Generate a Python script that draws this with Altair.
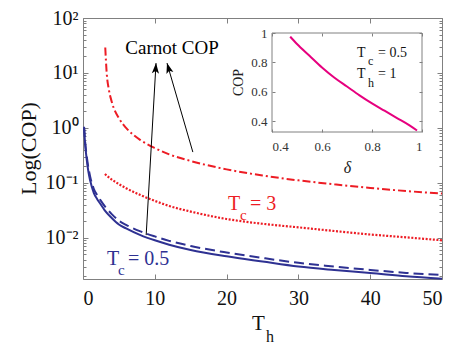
import altair as alt
import pandas as pd

# ---------------- data ----------------
th_tc05 = [0.15, 0.3, 0.5, 0.75, 1.0, 1.5, 2.0, 2.5, 3.0, 4.0, 5.0, 6.0, 8.0, 10, 12, 15, 20, 25, 30, 35, 40, 45, 50]
cop_tc05 = [1.0, 0.5, 0.28, 0.16, 0.11, 0.066, 0.050, 0.040, 0.032, 0.023, 0.0175, 0.0148, 0.0112, 0.0090,
            0.0075, 0.0060, 0.0046, 0.0037, 0.0030, 0.0026, 0.0023, 0.0020, 0.0018]
cop_carnot_tc05 = [1.05, 0.55, 0.32, 0.19, 0.13, 0.078, 0.059, 0.047, 0.038, 0.027, 0.0205, 0.0172, 0.0131,
                   0.0106, 0.0088, 0.0071, 0.0054, 0.0043, 0.0035, 0.0030, 0.0026, 0.0023, 0.0021]

th_carnot_tc3 = [3.1, 3.3, 3.6, 4, 5, 6, 7, 8, 10, 12, 15, 20, 25, 30, 35, 40, 45, 50]
cop_carnot_tc3 = [29.0, 10.0, 5.0, 3.0, 1.5, 1.0, 0.75, 0.6, 0.43, 0.33, 0.25, 0.176, 0.136, 0.111,
                  0.094, 0.081, 0.071, 0.064]

th_tc3 = [3.05, 4, 5, 6, 8, 10, 12, 15, 20, 25, 30, 35, 40, 45, 50]
cop_tc3 = [0.145, 0.115, 0.095, 0.080, 0.060, 0.047, 0.038, 0.030, 0.022, 0.018, 0.0155, 0.0133,
           0.0115, 0.0102, 0.0090]

delta_vals = [0.473, 0.5, 0.55, 0.6, 0.65, 0.7, 0.75, 0.8, 0.85, 0.9, 0.95, 0.98]
cop_inset = [0.975, 0.925, 0.845, 0.765, 0.695, 0.635, 0.575, 0.52, 0.47, 0.42, 0.37, 0.335]

x_ticks = [0, 10, 20, 30, 40, 50]
y_decades = [0.01, 0.1, 1, 10, 100]
y_minor = [m * d for d in [0.001, 0.01, 0.1, 1, 10] for m in range(2, 10)]
inset_ticks = [0.4, 0.6, 0.8, 1.0]

arrow_id = ["a1", "a1", "a2", "a2"]
arrow_th = [8.8, 10.17, 15.3, 11.7]
arrow_cop = [0.0112, 15.1, 0.363, 15.1]
head_th = [10.17, 11.7]
head_cop = [15.1, 15.1]
head_angle = [3.3, 343.8]

# annotation texts (main plot, data coordinates)
big_text = ["T", "= 0.5", "T", "= 3"]
big_th = [3.34, 6.27, 20.2, 23.26]
big_cop = [0.00316, 0.00316, 0.0318, 0.0318]
big_col = ["#2E3192", "#2E3192", "#ED1C24", "#ED1C24"]
sub_text = ["c", "c"]
sub_th = [4.87, 21.87]
sub_cop = [0.0021, 0.0209]
sub_col = ["#2E3192", "#ED1C24"]

# inset annotation texts (inset data coordinates)
ibig_text = ["T", "= 0.5", "T", "= 1"]
ibig_d = [0.74, 0.824, 0.74, 0.824]
ibig_c = [0.836, 0.836, 0.693, 0.693]
isub_text = ["c", "h"]
isub_d = [0.784, 0.784]
isub_c = [0.782, 0.632]

# ---------------- styling ----------------
SERIF = "Liberation Serif"
BLUE = "#2E3192"
RED = "#ED1C24"
MAGENTA = "#E6007E"
GRAY = "#808080"
W, H = 359, 261
IX0, IX1 = 189, 339     # inset x range (px in plot area)
IY_TOP, IY_BOT = 15, 114

xs = alt.Scale(domain=[0, 50], nice=False, zero=False)
ys = alt.Scale(type="log", domain=[0.00178, 100], nice=False)
ixs = alt.Scale(domain=[0.4, 1.0], range=[IX0, IX1], nice=False, zero=False)
iys = alt.Scale(domain=[0.325, 1.0], range=[IY_BOT, IY_TOP], nice=False, zero=False)


def tick_axis(orient, offset, values, size, z=0):
    return alt.Axis(orient=orient, offset=offset, values=values, labels=False, domain=False,
                    ticks=True, tickSize=size, tickColor=GRAY, tickWidth=1, grid=False,
                    title=None, zindex=z)


label_expr = ("datum.value >= 50 ? '10²' : datum.value >= 5 ? '10¹' : datum.value >= 0.5 ? '10⁰' : "
              "datum.value >= 0.05 ? '10⁻¹' : '10⁻²'")

ax_x_lab = alt.Axis(orient="bottom", values=x_ticks, ticks=False, tickSize=0, domain=False, grid=False,
                    labelFont=SERIF, labelFontSize=20, labelColor="#111", labelPadding=9, title=None)
ax_y_lab = alt.Axis(orient="left", values=y_decades, labelExpr=label_expr, ticks=False, tickSize=0,
                    domain=False, grid=False, labelFont=SERIF, labelFontSize=20, labelColor="#111",
                    labelPadding=5, title="Log(COP)", titleFont=SERIF, titleFontSize=22,
                    titleFontWeight="normal", titleColor="#111", titleAngle=270, titleX=-55, titleY=130,
                    titleAlign="center", titleBaseline="middle")

# ---------------- main plot ----------------
df_solid = pd.DataFrame({"th": th_tc05, "cop": cop_tc05})
df_dash = pd.DataFrame({"th": th_tc05, "cop": cop_carnot_tc05})
df_dd = pd.DataFrame({"th": th_carnot_tc3, "cop": cop_carnot_tc3})
df_dot = pd.DataFrame({"th": th_tc3, "cop": cop_tc3})
df_arrow = pd.DataFrame({"id": arrow_id, "th": arrow_th, "cop": arrow_cop})
df_head = pd.DataFrame({"th": head_th, "cop": head_cop, "ang": head_angle})
df_big = pd.DataFrame({"t": big_text, "th": big_th, "cop": big_cop, "col": big_col})
df_sub = pd.DataFrame({"t": sub_text, "th": sub_th, "cop": sub_cop, "col": sub_col})
df_carnot = pd.DataFrame({"t": ["Carnot COP"], "th": [12.4], "cop": [22.1]})

solid = alt.Chart(df_solid).mark_line(color=BLUE, strokeWidth=2, interpolate="monotone").encode(
    x=alt.X("th:Q", scale=xs, axis=ax_x_lab), y=alt.Y("cop:Q", scale=ys, axis=ax_y_lab))
dashed = alt.Chart(df_dash).mark_line(color=BLUE, strokeWidth=2, strokeDash=[10, 5],
                                      interpolate="monotone").encode(
    x=alt.X("th:Q", scale=xs, axis=tick_axis("top", -H, x_ticks, 5)),
    y=alt.Y("cop:Q", scale=ys, axis=tick_axis("right", -W, y_decades, 5)))
dashdot = alt.Chart(df_dd).mark_line(color=RED, strokeWidth=2, strokeDash=[8, 3, 2, 3],
                                     interpolate="monotone").encode(
    x=alt.X("th:Q", scale=xs, axis=tick_axis("bottom", -H, x_ticks, 5)),
    y=alt.Y("cop:Q", scale=ys, axis=tick_axis("left", -W, y_decades, 5)))
dotted = alt.Chart(df_dot).mark_line(color=RED, strokeWidth=2.2, strokeDash=[2, 1.6],
                                     interpolate="monotone").encode(
    x=alt.X("th:Q", scale=xs, axis=None),
    y=alt.Y("cop:Q", scale=ys, axis=tick_axis("right", -W, y_minor, 3)))
arrows = alt.Chart(df_arrow).mark_line(color="black", strokeWidth=1).encode(
    x=alt.X("th:Q", scale=xs, axis=None),
    y=alt.Y("cop:Q", scale=ys, axis=tick_axis("left", -W, y_minor, 3)),
    detail="id:N")
heads = alt.Chart(df_head).mark_point(shape="M0,0L0.45,1.3L0,1L-0.45,1.3Z", filled=True, color="black",
                                      opacity=1, size=256).encode(
    x=alt.X("th:Q", scale=xs, axis=None), y=alt.Y("cop:Q", scale=ys, axis=None),
    angle=alt.Angle("ang:Q", scale=None))
txt_big = alt.Chart(df_big).mark_text(font=SERIF, fontSize=20, align="left", baseline="alphabetic").encode(
    x=alt.X("th:Q", scale=xs, axis=None), y=alt.Y("cop:Q", scale=ys, axis=None), text="t:N",
    color=alt.Color("col:N", scale=None))
txt_sub = alt.Chart(df_sub).mark_text(font=SERIF, fontSize=15, align="left", baseline="alphabetic").encode(
    x=alt.X("th:Q", scale=xs, axis=None), y=alt.Y("cop:Q", scale=ys, axis=None), text="t:N",
    color=alt.Color("col:N", scale=None))
txt_carnot = alt.Chart(df_carnot).mark_text(font=SERIF, fontSize=19, align="center", baseline="alphabetic",
                                            color="black").encode(
    x=alt.X("th:Q", scale=xs, axis=None), y=alt.Y("cop:Q", scale=ys, axis=None), text="t:N")
xt_T = alt.Chart(pd.DataFrame({"t": ["T"]})).mark_text(font=SERIF, fontSize=21, align="left",
                                                       baseline="alphabetic", color="#111").encode(
    x=alt.value(169), y=alt.value(312), text="t:N")
xt_h = alt.Chart(pd.DataFrame({"t": ["h"]})).mark_text(font=SERIF, fontSize=16, align="left",
                                                       baseline="alphabetic", color="#111").encode(
    x=alt.value(183), y=alt.value(324), text="t:N")

main = alt.layer(solid, dashed, dashdot, dotted, arrows, heads, txt_big, txt_sub, txt_carnot,
                 xt_T, xt_h).resolve_axis(x="independent", y="independent")

# ---------------- inset ----------------
ax_ix_lab = alt.Axis(orient="bottom", offset=IY_BOT - H, values=inset_ticks, format="~g", ticks=False,
                     tickSize=0, domain=False, grid=False, labelFont=SERIF, labelFontSize=13,
                     labelColor="#333", labelPadding=8, title="δ", titleFont=SERIF, titleFontSize=16,
                     titleFontStyle="italic", titleFontWeight="normal", titleColor="#222",
                     titleX=264, titleY=40, titleAlign="center", titleBaseline="alphabetic", zindex=1)
ax_iy_lab = alt.Axis(orient="left", offset=-IX0, values=inset_ticks, format="~g", ticks=False,
                     tickSize=0, domain=False, grid=False, labelFont=SERIF, labelFontSize=13,
                     labelColor="#333", labelPadding=5, title="COP", titleFont=SERIF, titleFontSize=14,
                     titleFontWeight="normal", titleColor="#222", titleAngle=270, titleX=-34, titleY=64,
                     titleAlign="center", titleBaseline="middle", zindex=1)

df_box = pd.DataFrame({"x0": [0.4], "x1": [1.0], "y0": [0.325], "y1": [1.0]})
df_inset = pd.DataFrame({"d": delta_vals, "c": cop_inset})
df_ibig = pd.DataFrame({"t": ibig_text, "d": ibig_d, "c": ibig_c})
df_isub = pd.DataFrame({"t": isub_text, "d": isub_d, "c": isub_c})

box = alt.Chart(df_box).mark_rect(fill="white", stroke=GRAY, strokeWidth=1).encode(
    x=alt.X("x0:Q", scale=ixs, axis=ax_ix_lab), x2="x1", y=alt.Y("y0:Q", scale=iys, axis=ax_iy_lab), y2="y1")
iline = alt.Chart(df_inset).mark_line(color=MAGENTA, strokeWidth=2, interpolate="monotone").encode(
    x=alt.X("d:Q", scale=ixs, axis=tick_axis("top", -IY_BOT, inset_ticks, 3, 1)),
    y=alt.Y("c:Q", scale=iys, axis=tick_axis("right", IX0 - W, inset_ticks, 3, 1)))
itxt_big = alt.Chart(df_ibig).mark_text(font=SERIF, fontSize=14, align="left", baseline="alphabetic",
                                        color="#111").encode(
    x=alt.X("d:Q", scale=ixs, axis=tick_axis("bottom", IY_TOP - H, inset_ticks, 3, 1)),
    y=alt.Y("c:Q", scale=iys, axis=tick_axis("left", -IX1, inset_ticks, 3, 1)), text="t:N")
itxt_sub = alt.Chart(df_isub).mark_text(font=SERIF, fontSize=12, align="left", baseline="alphabetic",
                                        color="#111").encode(
    x=alt.X("d:Q", scale=ixs, axis=None), y=alt.Y("c:Q", scale=iys, axis=None), text="t:N")

inset = alt.layer(box, iline, itxt_big, itxt_sub).resolve_axis(x="independent", y="independent")

chart = alt.layer(main, inset).resolve_scale(x="independent", y="independent").properties(
    width=W, height=H, autosize=alt.AutoSizeParams(type="none"),
    padding={"left": 75, "top": 10, "right": 22, "bottom": 67},
).configure_axis(grid=False).configure_view(stroke=GRAY, strokeWidth=1)

chart.save("out.html", embed_options={"renderer": "svg", "actions": False})
